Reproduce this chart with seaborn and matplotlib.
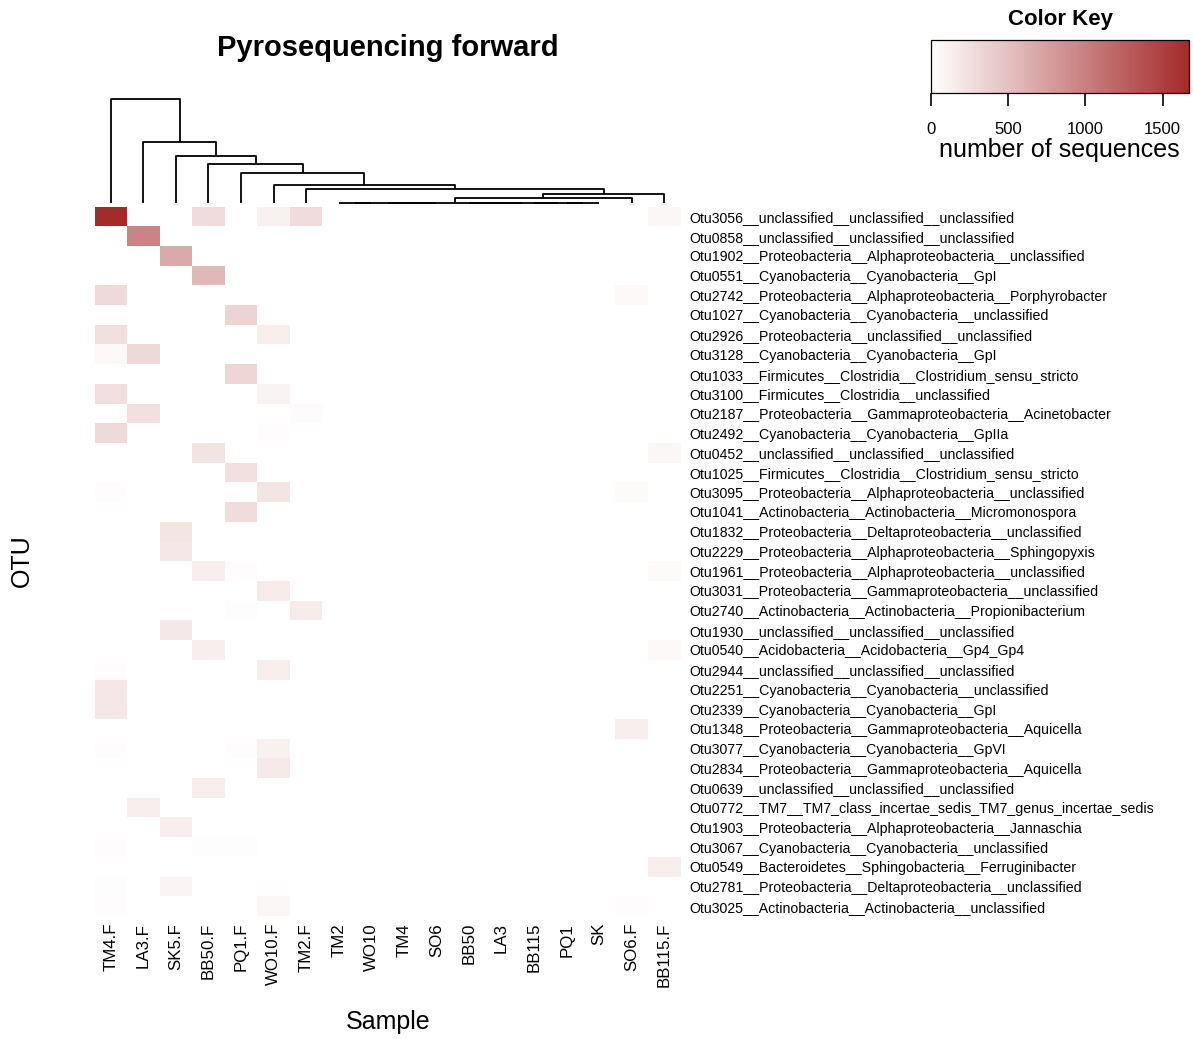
import numpy as np
import pandas as pd
import matplotlib
matplotlib.use("Agg")
import matplotlib.pyplot as plt
import seaborn as sns
from matplotlib.colors import LinearSegmentedColormap

# ---------------- data ----------------
samples = ["TM4.F", "LA3.F", "SK5.F", "BB50.F", "PQ1.F", "WO10.F", "TM2.F",
           "TM2", "WO10", "TM4", "SO6", "BB50", "LA3", "BB115", "PQ1", "SK",
           "SO6.F", "BB115.F"]

otus = [
    "Otu3056__unclassified__unclassified__unclassified",
    "Otu0858__unclassified__unclassified__unclassified",
    "Otu1902__Proteobacteria__Alphaproteobacteria__unclassified",
    "Otu0551__Cyanobacteria__Cyanobacteria__GpI",
    "Otu2742__Proteobacteria__Alphaproteobacteria__Porphyrobacter",
    "Otu1027__Cyanobacteria__Cyanobacteria__unclassified",
    "Otu2926__Proteobacteria__unclassified__unclassified",
    "Otu3128__Cyanobacteria__Cyanobacteria__GpI",
    "Otu1033__Firmicutes__Clostridia__Clostridium_sensu_stricto",
    "Otu3100__Firmicutes__Clostridia__unclassified",
    "Otu2187__Proteobacteria__Gammaproteobacteria__Acinetobacter",
    "Otu2492__Cyanobacteria__Cyanobacteria__GpIIa",
    "Otu0452__unclassified__unclassified__unclassified",
    "Otu1025__Firmicutes__Clostridia__Clostridium_sensu_stricto",
    "Otu3095__Proteobacteria__Alphaproteobacteria__unclassified",
    "Otu1041__Actinobacteria__Actinobacteria__Micromonospora",
    "Otu1832__Proteobacteria__Deltaproteobacteria__unclassified",
    "Otu2229__Proteobacteria__Alphaproteobacteria__Sphingopyxis",
    "Otu1961__Proteobacteria__Alphaproteobacteria__unclassified",
    "Otu3031__Proteobacteria__Gammaproteobacteria__unclassified",
    "Otu2740__Actinobacteria__Actinobacteria__Propionibacterium",
    "Otu1930__unclassified__unclassified__unclassified",
    "Otu0540__Acidobacteria__Acidobacteria__Gp4_Gp4",
    "Otu2944__unclassified__unclassified__unclassified",
    "Otu2251__Cyanobacteria__Cyanobacteria__unclassified",
    "Otu2339__Cyanobacteria__Cyanobacteria__GpI",
    "Otu1348__Proteobacteria__Gammaproteobacteria__Aquicella",
    "Otu3077__Cyanobacteria__Cyanobacteria__GpVI",
    "Otu2834__Proteobacteria__Gammaproteobacteria__Aquicella",
    "Otu0639__unclassified__unclassified__unclassified",
    "Otu0772__TM7__TM7_class_incertae_sedis_TM7_genus_incertae_sedis",
    "Otu1903__Proteobacteria__Alphaproteobacteria__Jannaschia",
    "Otu3067__Cyanobacteria__Cyanobacteria__unclassified",
    "Otu0549__Bacteroidetes__Sphingobacteria__Ferruginibacter",
    "Otu2781__Proteobacteria__Deltaproteobacteria__unclassified",
    "Otu3025__Actinobacteria__Actinobacteria__unclassified",
]

# number of sequences per sample (one value per OTU, in the order above)
tm4_f = [1670, 0, 0, 0, 290, 0, 243, 47, 0, 243,
         0, 290, 0, 0, 25, 0, 0, 0, 0, 0,
         0, 0, 0, 25, 195, 195, 0, 30, 0, 0,
         0, 0, 20, 0, 15, 25]
la3_f = [0, 970, 0, 0, 0, 0, 0, 313, 0, 0,
         243, 0, 0, 0, 0, 0, 0, 0, 0, 0,
         0, 0, 0, 0, 0, 0, 0, 0, 0, 0,
         133, 0, 0, 0, 0, 0]
sk5_f = [0, 0, 675, 0, 0, 0, 0, 0, 0, 0,
         0, 0, 0, 0, 0, 0, 204, 195, 0, 0,
         0, 180, 0, 0, 0, 0, 0, 0, 0, 0,
         0, 133, 0, 0, 90, 0]
bb50_f = [275, 0, 0, 556, 0, 0, 0, 0, 0, 0,
          0, 0, 220, 0, 0, 0, 0, 0, 133, 0,
          0, 0, 133, 0, 0, 0, 0, 0, 0, 150,
          0, 0, 15, 0, 0, 0]
pq1_f = [0, 0, 0, 0, 0, 345, 0, 0, 320, 0,
         0, 0, 0, 250, 0, 275, 0, 0, 25, 0,
         15, 0, 0, 0, 0, 0, 0, 20, 0, 0,
         0, 0, 15, 0, 0, 0]
wo10_f = [118, 0, 0, 0, 0, 0, 141, 0, 0, 94,
          0, 20, 0, 0, 204, 0, 0, 0, 0, 157,
          0, 0, 0, 149, 0, 0, 0, 118, 170, 0,
          0, 0, 0, 0, 10, 70]
tm2_f = [275, 0, 0, 0, 0, 0, 0, 0, 0, 0,
         35, 0, 0, 0, 0, 0, 0, 0, 0, 0,
         157, 0, 0, 0, 0, 0, 0, 0, 0, 0,
         0, 0, 0, 0, 0, 0]
tm2 = [0] * 36
wo10 = [0] * 36
tm4 = [0] * 36
so6 = [0] * 36
bb50 = [0] * 36
la3 = [0] * 36
bb115 = [0] * 36
pq1 = [0] * 36
sk = [0] * 36
so6_f = [0, 0, 0, 0, 50, 0, 0, 0, 0, 0,
         0, 0, 0, 0, 40, 0, 0, 0, 0, 0,
         0, 0, 0, 0, 0, 0, 150, 0, 0, 0,
         0, 0, 0, 0, 0, 20]
bb115_f = [60, 0, 0, 0, 0, 0, 0, 0, 0, 0,
           0, 0, 70, 0, 0, 0, 0, 0, 45, 0,
           0, 0, 50, 0, 0, 0, 0, 0, 0, 0,
           0, 0, 0, 140, 0, 0]

# column dendrogram (leaves 0..17 are samples, new nodes numbered from 18)
merge_left = [7, 9, 18, 11, 14, 13, 21, 20, 25, 26, 6, 5, 4, 3, 2, 1, 0]
merge_right = [8, 10, 19, 12, 15, 22, 23, 24, 16, 17, 27, 28, 29, 30, 31, 32, 33]
merge_height = [0, 0, 0, 0, 0, 0, 0, 0, 88, 146, 228, 288, 483, 640, 764, 991, 1680]

key_ticks = [0, 500, 1000, 1500]

# ---------------- figure ----------------
plt.rcParams["font.family"] = ["Liberation Sans", "DejaVu Sans"]

df = pd.DataFrame({s: v for s, v in zip(samples, [tm4_f, la3_f, sk5_f, bb50_f, pq1_f, wo10_f, tm2_f,
                                                   tm2, wo10, tm4, so6, bb50, la3, bb115, pq1, sk,
                                                   so6_f, bb115_f])}, index=otus)

W, H = 1193, 1039
fig = plt.figure(figsize=(W / 100, H / 100), dpi=100)


def fx(p):
    return p / W


def fy(p):
    return 1 - p / H


hm_l, hm_r, hm_t, hm_b = 94.5, 680.6, 206.5, 916
ax = fig.add_axes([fx(hm_l), fy(hm_b), fx(hm_r) - fx(hm_l), fy(hm_t) - fy(hm_b)])
cax = fig.add_axes([fx(931), fy(92.5), fx(1189) - fx(931), fy(40) - fy(92.5)])
dax = fig.add_axes([fx(hm_l), fy(203), fx(hm_r) - fx(hm_l), fy(99.5) - fy(203)])

cmap = LinearSegmentedColormap.from_list("white_brown", ["#FFFFFF", "#A52A2A"])
vmax = float(df.values.max())

sns.heatmap(df, ax=ax, cmap=cmap, vmin=0, vmax=vmax, cbar_ax=cax,
            cbar_kws={"orientation": "horizontal", "ticks": key_ticks},
            xticklabels=True, yticklabels=True)

ax.set_xlabel("")
ax.set_ylabel("")
ax.yaxis.tick_right()
ax.tick_params(axis="y", length=0, pad=6.5, labelsize=10.2, labelrotation=0)
ax.tick_params(axis="x", length=0, pad=5, labelsize=12.2, labelrotation=90)
for t in ax.get_yticklabels():
    t.set_ha("left")

# colour key
cb = ax.collections[0].colorbar
cb.outline.set_edgecolor("black")
cb.outline.set_linewidth(0.9)
cax.tick_params(axis="x", length=9, width=1.2, labelsize=12, pad=12, direction="out")
cax.xaxis.set_ticks_position("bottom")

# dendrogram
pos = {i: i + 0.5 for i in range(len(samples))}
hgt = {i: 0.0 for i in range(len(samples))}
for k, (l, r, h) in enumerate(zip(merge_left, merge_right, merge_height)):
    node = len(samples) + k
    xl, xr = pos[l], pos[r]
    dax.plot([xl, xl, xr, xr], [hgt[l], h, h, hgt[r]], color="black", lw=1.3,
             clip_on=False, solid_capstyle="butt")
    pos[node] = (xl + xr) / 2
    hgt[node] = h
dax.set_xlim(0, len(samples))
dax.set_ylim(0, max(merge_height))
dax.axis("off")

# texts
fig.text(fx(388), fy(47.5), "Pyrosequencing forward", ha="center", va="center",
         fontsize=21, fontweight="bold")
fig.text(fx(1060), fy(20), "Color Key", ha="center", va="center",
         fontsize=16, fontweight="bold")
fig.text(fx(1059), fy(150), "number of sequences", ha="center", va="center", fontsize=18)
fig.text(fx(388), fy(1022), "Sample", ha="center", va="center", fontsize=18)
fig.text(fx(22), fy(561), "OTU", ha="center", va="center", fontsize=18, rotation=90)

fig.savefig("out.png", dpi=100, facecolor="white")
